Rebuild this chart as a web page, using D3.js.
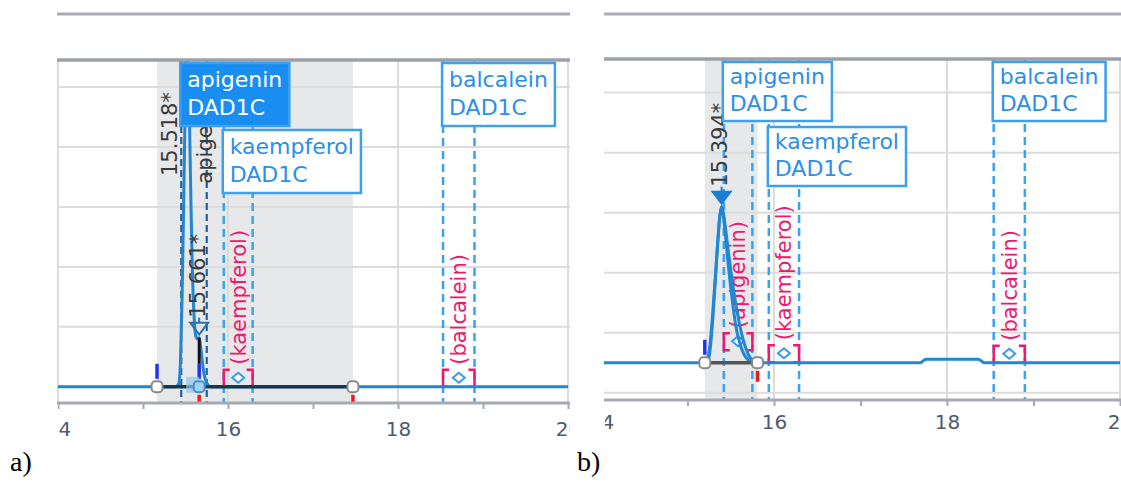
<!DOCTYPE html>
<html><head><meta charset="utf-8">
<script src="https://cdn.jsdelivr.net/npm/d3@7"></script>
<style>
html,body{margin:0;padding:0;background:#fff;}
svg{display:block;}
</style></head>
<body>
<svg id="chart" width="1121" height="482"></svg>
<script>
// ---------- data ----------
const timeTicks = [14, 15, 16, 17, 18, 19, 20];
const intensityTicks = [0, 10, 20, 30, 40, 50];
const compounds = ["apigenin", "kaempferol", "balcalein"];
const signalName = "DAD1C";

// run a)
const windowStartA = [15.45, 15.95, 18.53];
const windowEndA   = [15.75, 16.29, 18.90];
const foundA       = [true, false, false];
const markerLevelA = [0, 0, 0];
const traceTimeA  = [14.00, 15.38, 15.42, 15.44, 15.46, 15.48, 15.50, 15.518, 15.535, 15.55, 15.565, 15.58, 15.60, 15.62, 15.64, 15.661, 15.68, 15.70, 15.72, 15.75, 15.80, 20.00];
const traceValueA = [0, 0, 0.5, 4, 15, 32, 50, 62, 55, 42, 30, 20, 12, 8.5, 8, 8.2, 6.5, 4, 2, 0.6, 0, 0];
const peakRtA   = [15.518, 15.661];
const peakNameA = ["", "apigenin"];
const integStartA = [15.165, 15.661];
const integEndA   = [15.661, 17.47];

// run b)
const windowStartB = [15.42, 15.94, 18.54];
const windowEndB   = [15.75, 16.29, 18.90];
const foundB       = [false, false, false];
const markerLevelB = [7.1, 5.1, 5.0];
const traceTimeB  = [14.00, 15.20, 15.23, 15.26, 15.29, 15.32, 15.35, 15.375, 15.394, 15.41, 15.44, 15.47, 15.50, 15.53, 15.56, 15.60, 15.65, 15.70, 15.76, 15.82, 17.69, 17.76, 18.36, 18.43, 20.00];
const traceValueB = [5, 5, 5.6, 8, 13, 19, 25, 29.5, 31, 30, 26, 21.5, 17.5, 14, 11, 8.5, 6.5, 5.5, 5.1, 5, 5, 5.6, 5.6, 5, 5];
const trace2TimeB  = [15.22, 15.25, 15.28, 15.31, 15.34, 15.37, 15.394, 15.42, 15.46, 15.50, 15.55, 15.60, 15.65, 15.70, 15.76, 15.82];
const trace2ValueB = [5, 6, 10, 16, 23, 29, 31, 29.5, 25, 20.5, 15.5, 11.5, 8.5, 6.5, 5.3, 5];
const peakRtB   = [15.394];
const peakNameB = [""];
const integStartB = [15.20];
const integEndB   = [15.81];

// ---------- layout ----------
const W = 1121, H = 482;
const FONT = "DejaVu Sans, Verdana, sans-serif";
const C = {
  grid: "#dcdcdc", frame: "#a6a9b1", shade: "#e7e8ea",
  signal: "#2286d0", boxFill: "#1a8ef0", boxStroke: "#3aa0f0", boxText: "#2b8fe6",
  win: "#3aa2f2", winSel: "#23609f", pink: "#f0186c", label: "#3a3a3a",
  tickText: "#4e5a6e", startTick: "#2433e6", endTick: "#f01818"
};

const panels = [
  { id: "a", caption: "a)", captionX: 10,
    left: 57, right: 570, top: 60, bottom: 403, x14: 58, x20: 568, yDom: [-2.7, 54.5],
    tickLabelY: 429, boxH: 63, rowGap: 4, line1: 24, line2: 52,
    integColor: "#173650", markerFill: "none",
    compounds, windowStart: windowStartA, windowEnd: windowEndA, found: foundA, markerLevel: markerLevelA,
    traces: [[traceTimeA, traceValueA]], peakRt: peakRtA, peakName: peakNameA,
    integStart: integStartA, integEnd: integEndA },
  { id: "b", caption: "b)", captionX: 577,
    left: 604, right: 1121, top: 59, bottom: 400, x14: 601, x20: 1120, yDom: [-1.2, 55.6],
    tickLabelY: 422, boxH: 59, rowGap: 6, line1: 22, line2: 49,
    integColor: "#555555", markerFill: "#1a7fd4",
    compounds, windowStart: windowStartB, windowEnd: windowEndB, found: foundB, markerLevel: markerLevelB,
    traces: [[traceTimeB, traceValueB], [trace2TimeB, trace2ValueB]], peakRt: peakRtB, peakName: peakNameB,
    integStart: integStartB, integEnd: integEndB }
];

const svg = d3.select("#chart");
const defs = svg.append("defs");

function valueAt(times, values, t) {
  const i = d3.bisectLeft(times, t);
  if (i <= 0) return values[0];
  if (i >= times.length) return values[values.length - 1];
  if (times[i] === t) return values[i];
  const t0 = times[i - 1], t1 = times[i];
  return values[i - 1] + (values[i] - values[i - 1]) * (t - t0) / (t1 - t0);
}

function vText(g, txt, cx, yBottom, size, fill, weight) {
  return g.append("text")
    .attr("transform", `translate(${cx},${yBottom}) rotate(-90)`)
    .attr("dy", "0.35em")
    .attr("font-family", FONT).attr("font-size", size)
    .attr("font-weight", weight || "normal")
    .attr("fill", fill).text(txt);
}

panels.forEach(p => {
  const x = d3.scaleLinear().domain([14, 20]).range([p.x14, p.x20]);
  const y = d3.scaleLinear().domain(p.yDom).range([p.bottom, p.top]);
  const g = svg.append("g");

  defs.append("clipPath").attr("id", "plot-" + p.id)
    .append("rect").attr("x", p.left).attr("y", p.top).attr("width", p.right - p.left).attr("height", p.bottom - p.top);
  defs.append("clipPath").attr("id", "wide-" + p.id)
    .append("rect").attr("x", p.left + 1).attr("y", 0).attr("width", p.right - p.left - 1).attr("height", H);

  const plot = g.append("g").attr("clip-path", `url(#plot-${p.id})`);
  const wide = g.append("g").attr("clip-path", `url(#wide-${p.id})`);

  // header rule and plot top rule
  g.append("line").attr("x1", p.left).attr("x2", p.right).attr("y1", 14).attr("y2", 14)
    .attr("stroke", "#a9acb4").attr("stroke-width", 3);

  // integrated region shading
  const iStart = p.integStart[0], iEnd = p.integEnd[p.integEnd.length - 1];
  plot.append("rect").attr("x", x(iStart)).attr("width", x(iEnd) - x(iStart))
    .attr("y", p.top).attr("height", p.bottom - p.top).attr("fill", C.shade);

  // grid
  plot.selectAll(".hg").data(intensityTicks).join("line")
    .attr("x1", p.left).attr("x2", p.right).attr("y1", d => y(d)).attr("y2", d => y(d))
    .attr("stroke", C.grid).attr("stroke-width", 2);
  plot.selectAll(".vg").data(timeTicks.filter(d => d % 2 === 0)).join("line")
    .attr("x1", d => x(d)).attr("x2", d => x(d)).attr("y1", p.top).attr("y2", p.bottom)
    .attr("stroke", C.grid).attr("stroke-width", 2);

  g.append("line").attr("x1", p.left).attr("x2", p.right).attr("y1", p.top).attr("y2", p.top)
    .attr("stroke", "#9da0a8").attr("stroke-width", 3.5);

  // time axis
  const axis = d3.axisBottom(x).tickValues(timeTicks).tickSize(6).tickSizeOuter(0)
    .tickFormat(d => d % 2 === 0 ? d : "");
  const ax = wide.append("g").attr("transform", `translate(0,${p.bottom})`).call(axis);
  ax.select(".domain").remove();
  ax.selectAll(".tick line").attr("stroke", C.frame).attr("stroke-width", 2);
  ax.selectAll(".tick text").attr("y", p.tickLabelY - p.bottom - 7.3)
    .attr("font-family", FONT).attr("font-size", 20).attr("fill", C.tickText);
  g.append("line").attr("x1", p.left).attr("x2", p.right).attr("y1", p.bottom).attr("y2", p.bottom)
    .attr("stroke", C.frame).attr("stroke-width", 3);

  // expected retention windows
  p.compounds.forEach((name, i) => {
    [p.windowStart[i], p.windowEnd[i]].forEach(t => {
      plot.append("line").attr("x1", x(t)).attr("x2", x(t)).attr("y1", p.top).attr("y2", p.bottom)
        .attr("stroke", p.found[i] ? C.winSel : C.win)
        .attr("stroke-width", p.found[i] ? 2.2 : 2.5)
        .attr("stroke-dasharray", p.found[i] ? "7,4" : "8,5");
    });
  });

  // not-found compounds: bracket marker + name in parentheses
  p.compounds.forEach((name, i) => {
    if (p.found[i]) return;
    const xs = x(p.windowStart[i]), xe = x(p.windowEnd[i]);
    const yb = y(p.markerLevel[i]), yt = yb - 17, cx = (xs + xe) / 2;
    plot.append("path")
      .attr("d", `M${xs + 6},${yt}H${xs}V${yb}H${xs + 6}M${xe - 6},${yt}H${xe}V${yb}H${xe - 6}`)
      .attr("fill", "none").attr("stroke", C.pink).attr("stroke-width", 2.5);
    const cy = yb - 9;
    plot.append("path")
      .attr("d", `M${cx},${cy - 5}L${cx + 6},${cy}L${cx},${cy + 5}L${cx - 6},${cy}Z`)
      .attr("fill", "#fff").attr("stroke", "#3a9ae8").attr("stroke-width", 2);
    vText(plot, `(${name})`, cx, yt - 5, 21, C.pink);
  });

  // signal traces
  const line = d3.line().x(d => x(d[0])).y(d => y(d[1])).curve(d3.curveMonotoneX);
  p.traces.forEach(([ts, vs]) => {
    plot.append("path").datum(ts.map((t, i) => [t, vs[i]])).attr("d", line)
      .attr("fill", "none").attr("stroke", C.signal).attr("stroke-width", 3)
      .attr("stroke-linejoin", "round");
  });
  const [mainT, mainV] = p.traces[0];

  // integration baseline and event ticks
  const baseV = valueAt(mainT, mainV, iStart);
  const yBase = y(baseV);
  plot.append("line").attr("x1", x(iStart)).attr("x2", x(iEnd)).attr("y1", yBase).attr("y2", yBase)
    .attr("stroke", p.integColor).attr("stroke-width", 3.5);

  p.integStart.forEach(t => {
    plot.append("line").attr("x1", x(t)).attr("x2", x(t)).attr("y1", yBase - 23).attr("y2", yBase - 8)
      .attr("stroke", C.startTick).attr("stroke-width", 3.5);
  });
  p.integEnd.forEach(t => {
    plot.append("line").attr("x1", x(t)).attr("x2", x(t)).attr("y1", yBase + 8).attr("y2", yBase + 19)
      .attr("stroke", C.endTick).attr("stroke-width", 3.5);
  });

  // named (identified) peaks: drop line from apex
  p.peakRt.forEach((rt, i) => {
    if (!p.peakName[i]) return;
    const ya = y(valueAt(mainT, mainV, rt));
    plot.append("line").attr("x1", x(rt)).attr("x2", x(rt)).attr("y1", ya).attr("y2", yBase - 23)
      .attr("stroke", "#111").attr("stroke-width", 3);
  });

  // boundary handles
  const bounds = Array.from(new Set([...p.integStart, ...p.integEnd]));
  bounds.forEach(t => {
    const split = p.integStart.includes(t) && p.integEnd.includes(t);
    if (split) {
      plot.append("rect").attr("x", x(t) - 13).attr("y", yBase - 10).attr("width", 13).attr("height", 16)
        .attr("fill", "#8cc8f2").attr("opacity", 0.7);
    }
    plot.append("rect").attr("x", x(t) - 5.5).attr("y", yBase - 5.5).attr("width", 11).attr("height", 11)
      .attr("rx", 4).attr("fill", split ? "#9fd3f7" : "#fff")
      .attr("stroke", split ? "#4a8ccc" : "#8a8a8a").attr("stroke-width", 2);
  });

  // peak retention-time labels
  p.peakRt.forEach((rt, i) => {
    const va = valueAt(mainT, mainV, rt);
    const ya = y(va);
    const txt = rt.toFixed(3) + "*";
    if (ya < p.top + 10) {
      vText(g, txt, x(rt) - 17, p.top + 116, 21, C.label);
      return;
    }
    const tip = ya - 3, tTop = tip - 12, xr = x(rt);
    const lb = ya - 20;
    g.append("line").attr("x1", xr).attr("x2", xr).attr("y1", lb).attr("y2", tTop)
      .attr("stroke", "#1a7fd4").attr("stroke-width", 2);
    g.append("path").attr("d", `M${xr - 9},${tTop}L${xr + 9},${tTop}L${xr},${tip}Z`)
      .attr("fill", p.markerFill === "none" ? "none" : p.markerFill)
      .attr("stroke", p.markerFill === "none" ? "#2a6fb0" : p.markerFill).attr("stroke-width", 2);
    const t = vText(g, txt, xr - 2, lb, 21, C.label);
    if (p.peakName[i]) {
      const len = t.node().getComputedTextLength();
      vText(g, p.peakName[i], xr + 5, lb - len - 50, 21, C.label);
    }
  });

  // compound boxes, stacked into rows where they overlap
  const rows = [];
  const order = d3.range(p.compounds.length).sort((a, b) => p.windowStart[a] - p.windowStart[b]);
  order.forEach(i => {
    const bg = g.append("g");
    const tx1 = bg.append("text").text(p.compounds[i]);
    const tx2 = bg.append("text").text(signalName);
    [tx1, tx2].forEach(t => t.attr("font-family", FONT).attr("font-size", 22)
      .attr("fill", p.found[i] ? "#fff" : C.boxText));
    const tw = Math.max(tx1.node().getComputedTextLength(), tx2.node().getComputedTextLength());
    const bx = x(p.windowStart[i]) - 1, bw = tw + 14;
    let r = 0;
    while (rows[r] && rows[r].some(([a, b]) => bx < b + 2 && bx + bw > a - 2)) r++;
    (rows[r] = rows[r] || []).push([bx, bx + bw]);
    const by = p.top + 3 + r * (p.boxH + p.rowGap);
    bg.insert("rect", "text").attr("x", bx).attr("y", by).attr("width", bw).attr("height", p.boxH)
      .attr("fill", p.found[i] ? C.boxFill : "#fff").attr("stroke", C.boxStroke).attr("stroke-width", 2.5);
    tx1.attr("x", bx + 7).attr("y", by + p.line1);
    tx2.attr("x", bx + 7).attr("y", by + p.line2);
  });

  // panel caption
  svg.append("text").attr("x", p.captionX).attr("y", 471)
    .attr("font-family", "Liberation Serif, Times New Roman, serif").attr("font-size", 28)
    .attr("fill", "#000").text(p.caption);
});
</script>
</body></html>
